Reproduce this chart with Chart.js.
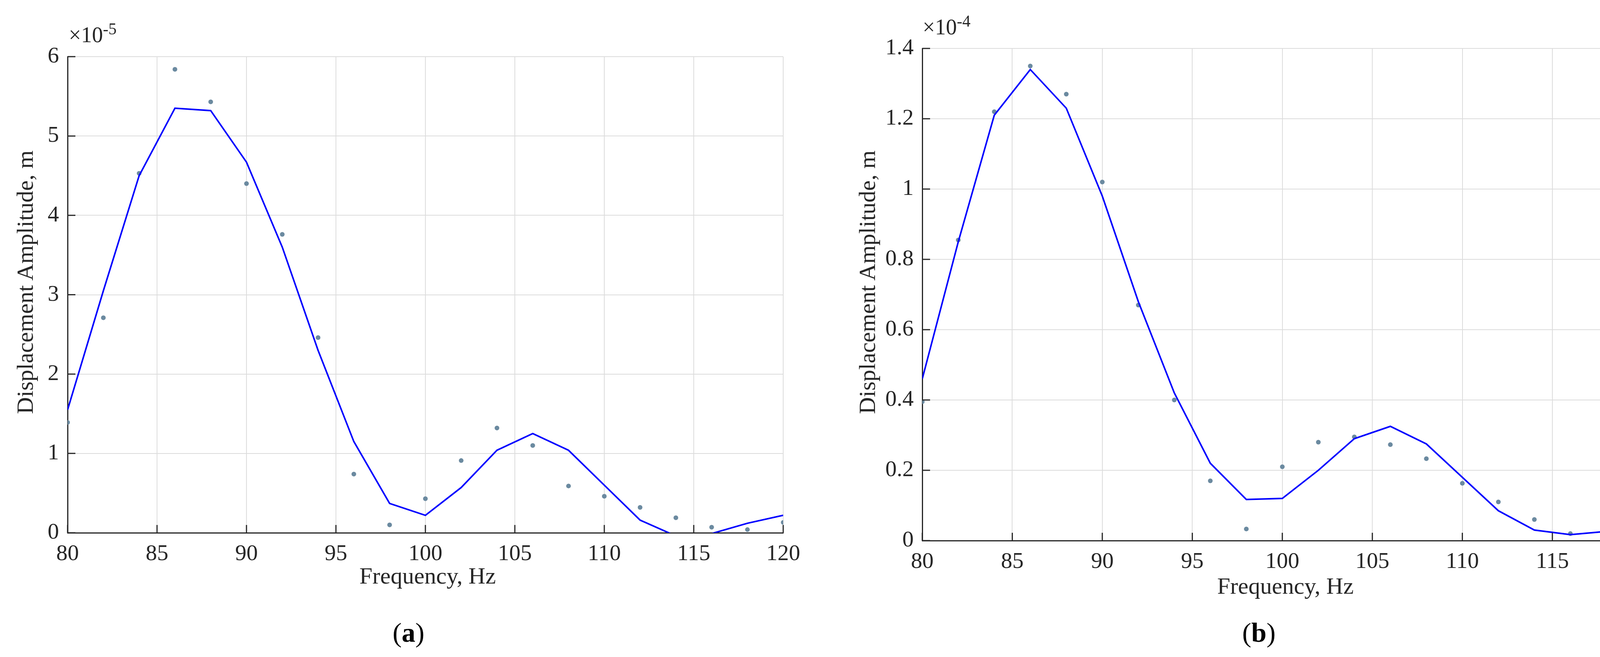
<!DOCTYPE html>
<html style="margin:0; overflow:hidden; width:4268px; height:1682px;">
<head>
<meta charset="utf-8">
<script src="https://cdn.jsdelivr.net/npm/chart.js@4"></script>
<style>
  body { margin: 0; background: #fff; width: 4268px; height: 1682px; position: relative; overflow: hidden; }
  .box { position: absolute; top: 0; width: 2134px; height: 1682px; }
  .txt { position: absolute; font-family: "Liberation Serif", "DejaVu Serif", serif; color: #262626; white-space: nowrap; }
  .xt { font-size: 60px; left: 0; }
  .yt { font-size: 60px; }
  .exp { font-size: 56px; }
  .exp sup { font-size: 42px; }
  .cap { font-size: 70px; color: #000; }
</style>
</head>
<body>
<div class="box" style="left:0"><canvas id="chartA"></canvas></div>
<div class="box" style="left:2134px"><canvas id="chartB"></canvas></div>

<div class="txt xt" style="left:920px; top:1440px">Frequency, Hz</div>
<div class="txt yt" style="left:30px; top:1060px; transform-origin:0 0; transform:rotate(-90deg)">Displacement Amplitude, m</div>
<div class="txt exp" style="left:176px; top:50px">×10<sup>-5</sup></div>
<div class="txt cap" style="left:1005px; top:1580px">(<b>a</b>)</div>

<div class="txt xt" style="left:3116px; top:1466px">Frequency, Hz</div>
<div class="txt yt" style="left:2186px; top:1060px; transform-origin:0 0; transform:rotate(-90deg)">Displacement Amplitude, m</div>
<div class="txt exp" style="left:2362px; top:30px">×10<sup>-4</sup></div>
<div class="txt cap" style="left:3180px; top:1580px">(<b>b</b>)</div>

<script>
// --- データ ---
const FREQ = [80, 82, 84, 86, 88, 90, 92, 94, 96, 98, 100, 102, 104, 106, 108, 110, 112, 114, 116, 118, 120];

// (a) ×1e-5
const FIT_A = [1.55, 3.05, 4.50, 5.35, 5.32, 4.67, 3.60, 2.30, 1.15, 0.37, 0.22, 0.57, 1.04, 1.25, 1.04, 0.60, 0.16, -0.04, -0.01, 0.12, 0.22];
const MEAS_A = [1.39, 2.71, 4.53, 5.84, 5.43, 4.40, 3.76, 2.46, 0.74, 0.10, 0.43, 0.91, 1.32, 1.10, 0.59, 0.46, 0.32, 0.19, 0.07, 0.04, 0.13];

// (b) ×1e-4
const FIT_B = [0.46, 0.85, 1.21, 1.34, 1.23, 0.98, 0.68, 0.42, 0.22, 0.117, 0.12, 0.20, 0.29, 0.325, 0.275, 0.18, 0.085, 0.03, 0.017, 0.026, 0.043];
const MEAS_B = [0.395, 0.855, 1.22, 1.35, 1.27, 1.02, 0.67, 0.40, 0.17, 0.033, 0.21, 0.28, 0.295, 0.273, 0.233, 0.163, 0.11, 0.06, 0.02, 0.011, 0.035];

const X_TICKS = { min: 80, max: 120, step: 5 };

const FONT = { family: '"Liberation Serif", "DejaVu Serif", serif', size: 58 };
const INK = '#262626';

// 内向きの目盛り線 (MATLAB風)
const innerTicks = {
    id: 'innerTicks',
    afterDatasetsDraw(chart) {
        const { ctx, chartArea: a, scales: { x, y } } = chart;
        ctx.save();
        ctx.strokeStyle = INK;
        ctx.lineWidth = 3;
        ctx.beginPath();
        x.ticks.forEach(t => { const px = x.getPixelForValue(t.value); ctx.moveTo(px, a.bottom); ctx.lineTo(px, a.bottom - 20); });
        y.ticks.forEach(t => { const py = y.getPixelForValue(t.value); ctx.moveTo(a.left, py); ctx.lineTo(a.left + 20, py); });
        ctx.stroke();
        ctx.restore();
    }
};

function makeChart(id, fit, meas, yMax, yStep, area) {
    const toPts = arr => FREQ.map((f, i) => ({ x: f, y: arr[i] }));
    return new Chart(document.getElementById(id), {
        type: 'scatter',
        data: {
            datasets: [
                { data: toPts(meas), showLine: false, pointRadius: 6, pointBackgroundColor: '#6b8aa0', pointBorderWidth: 0, order: 2 },
                { data: toPts(fit), showLine: true, borderColor: '#0000ff', borderWidth: 4, pointRadius: 0, tension: 0, clip: 0, order: 1 }
            ]
        },
        options: {
            responsive: false, animation: false, devicePixelRatio: 1,
            layout: { padding: { top: area.top, right: area.right, left: 0, bottom: 0 } },
            plugins: { legend: { display: false }, tooltip: { enabled: false } },
            scales: {
                x: {
                    type: 'linear', min: X_TICKS.min, max: X_TICKS.max,
                    ticks: { stepSize: X_TICKS.step, color: INK, font: FONT, padding: 20, maxRotation: 0 },
                    grid: { color: '#dcdcdc', lineWidth: 2, drawTicks: false },
                    border: { display: true, color: INK, width: 3 },
                    afterFit: s => { s.height = area.xh; }
                },
                y: {
                    min: 0, max: yMax,
                    ticks: { stepSize: yStep, color: INK, font: FONT, padding: 22,
                        callback: v => String(Math.round(v * 10) / 10) },
                    grid: { color: '#dcdcdc', lineWidth: 2, drawTicks: false },
                    border: { display: true, color: INK, width: 3 },
                    afterFit: s => { s.width = area.yw; }
                }
            }
        },
        plugins: [innerTicks]
    });
}

function sizeCanvas(id) {
    const c = document.getElementById(id);
    c.width = 2134; c.height = 1682;
    c.style.width = '2134px'; c.style.height = '1682px';
}
sizeCanvas('chartA');
sizeCanvas('chartB');

makeChart('chartA', FIT_A, MEAS_A, 6, 1, { top: 145, right: 129, xh: 318, yw: 173 });
makeChart('chartB', FIT_B, MEAS_B, 1.4, 0.2, { top: 124, right: 55, xh: 298, yw: 227 });
</script>
</body>
</html>
